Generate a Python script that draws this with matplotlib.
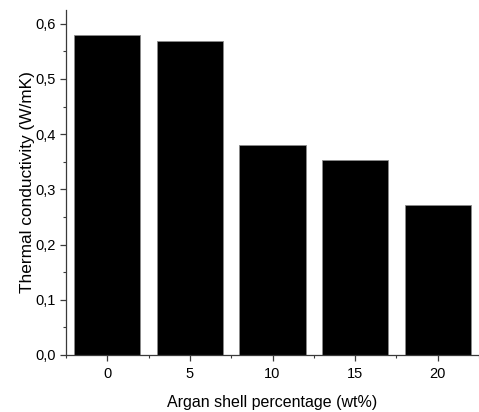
import matplotlib
matplotlib.use("Agg")
import matplotlib.pyplot as plt
from matplotlib.ticker import FuncFormatter, MultipleLocator

# data
shell_pct = [0, 5, 10, 15, 20]
conductivity = [0.580, 0.568, 0.381, 0.353, 0.272]

plt.rcParams["font.family"] = ["Liberation Sans", "DejaVu Sans"]

fig = plt.figure(figsize=(4.79, 4.12), dpi=100)
ax = fig.add_axes([66 / 479, 57 / 412, 413 / 479, 345 / 412])

ax.bar(shell_pct, conductivity, width=4, color="black",
       edgecolor="#8a8a8a", linewidth=0.6)

ax.set_xlim(-2.5, 22.5)
ax.set_ylim(0, 0.625)
ax.set_xticks(shell_pct)
ax.xaxis.set_minor_locator(MultipleLocator(2.5))
ax.yaxis.set_major_locator(MultipleLocator(0.1))
ax.yaxis.set_minor_locator(MultipleLocator(0.05))
ax.yaxis.set_major_formatter(FuncFormatter(lambda v, _: f"{v:.1f}".replace(".", ",")))

for s in ("top", "right"):
    ax.spines[s].set_visible(False)
for s in ("left", "bottom"):
    ax.spines[s].set_color("#3a3a3a")
    ax.spines[s].set_linewidth(0.9)

ax.tick_params(which="major", direction="out", length=4.3, width=0.9,
               color="#3a3a3a", labelsize=10.5, pad=3)
ax.tick_params(axis="x", which="major", pad=4.5)
ax.tick_params(which="minor", direction="out", length=2.3, width=0.8,
               color="#3a3a3a")

ax.set_xlabel("Argan shell percentage (wt%)", fontsize=11.5, labelpad=10)
ax.set_ylabel("Thermal conductivity (W/mK)", fontsize=12.4, labelpad=0.5)

fig.savefig("out.png", dpi=100)
